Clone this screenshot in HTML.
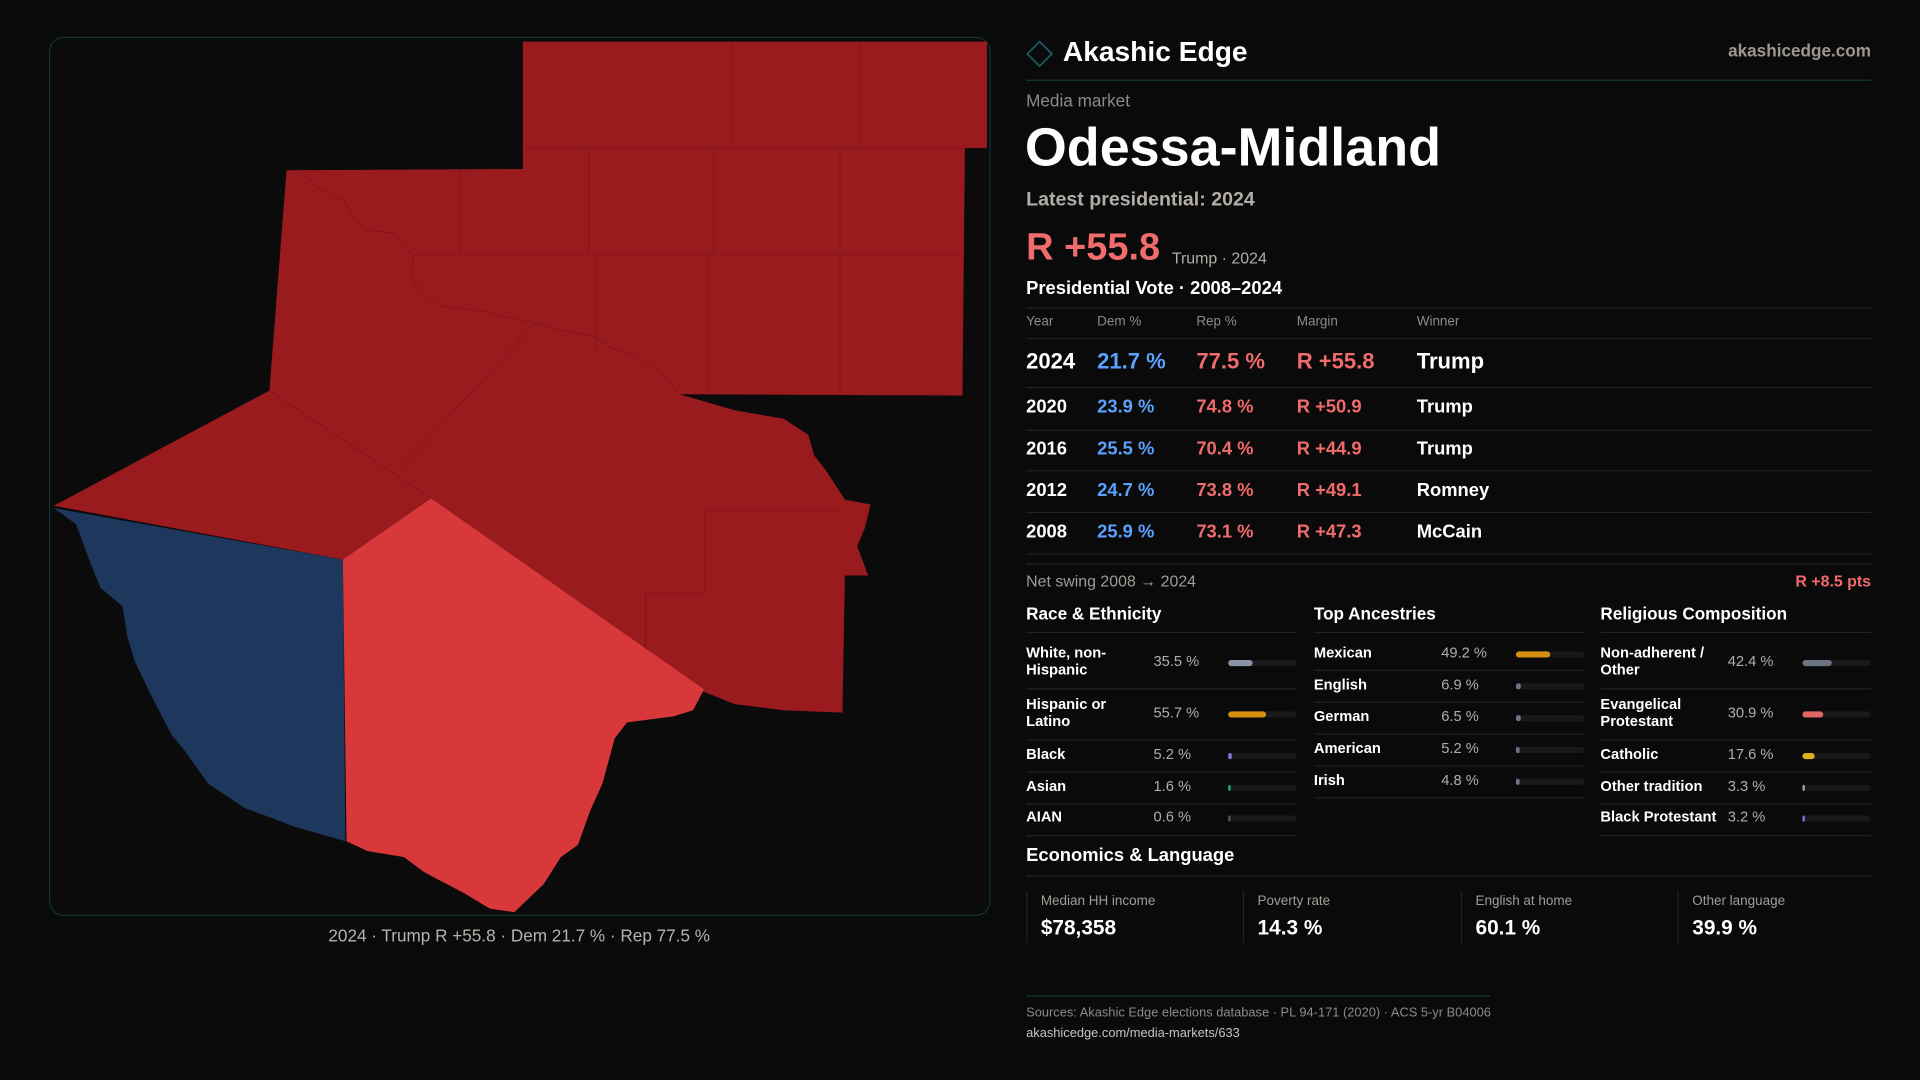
<!DOCTYPE html>
<html><head><meta charset="utf-8">
<style>
html,body{margin:0;padding:0;background:#0a0a0b;width:1920px;height:1080px;overflow:hidden}
#root{position:absolute;left:0;top:0;width:1568px;height:882px;transform:scale(1.22449);transform-origin:0 0;font-family:"Liberation Sans",sans-serif;color:#fff}
.a{position:absolute;white-space:nowrap}
.ln{position:absolute;height:1px;background:#222225}
</style></head><body>
<div id="root">
<div class="a" style="left:40px;top:30px;width:767px;height:716px;border:1px solid #133238;border-radius:12px;background:#0b0b0c"></div>
<svg class="a" style="left:0;top:0" width="1568" height="882" viewBox="0 0 1568 882">
<polygon fill="#9a1b1e" points="220,319 234,139 427,138 427,34 806,34 806,121 788,121 786,323 555,322 600,335 640,342 660,355 665,372 675,385 690,408 711,412 706,432 700,446 709,470 690,470 688,582 640,580 600,575 575,565 352,407"/>
<polygon fill="#9a1b1e" points="44,413 220,319 352,407 280,457"/>
<polygon fill="#1e375c" points="44,415 280,457 282,687 240,675 222,668 200,660 170,640 150,612 140,600 122,565 110,540 104,520 100,495 82,480 74,460 62,428"/>
<polygon fill="#d8383a" points="352,407 575,563 566,580 550,585 512,590 502,603 492,640 482,662 472,690 458,700 444,722 420,745 400,742 380,730 346,712 330,700 300,695 283,687 280,457"/>
<g stroke="#7c1519" stroke-width="0.6" fill="none">
<path d="M598,34V121M702,34V121M375,139V208M481,121V208M583,121V208M686,121V208M487,208V285M578,208V323M686,208V323M427,121H788M338,208H788"/>
<path d="M245,140 262,155 282,165 290,180 300,188 320,190 338,210 335,225 345,240 360,250 380,252 400,255 425,262 438,263 460,270 485,275 500,285 520,290 540,305 555,322"/>
<path d="M327,383 438,263M220,319 352,407M527,485H575V418H686M527,485V530"/>
</g>
</svg>
<div class="a" style="left:224px;width:400px;text-align:center;top:756px;font-size:14px;color:#b8b2ac">2024 · Trump R +55.8 · Dem 21.7 % · Rep 77.5 %</div>

<svg class="a" style="left:838px;top:33px" width="22" height="22"><polygon points="11,1 21,11 11,21 1,11" fill="none" stroke="#1b5a60" stroke-width="1.5"/></svg>
<div class="a" style="left:868px;top:29px;font-size:23px;font-weight:bold">Akashic Edge</div>
<div class="a" style="right:40px;top:33px;font-size:14px;color:#9d9791;font-weight:bold">akashicedge.com</div>
<div class="ln" style="left:838px;width:690px;top:65px;background:#173a3f"></div>
<div class="a" style="left:838px;top:74px;font-size:14px;color:#8f8a85">Media market</div>
<div class="a" style="left:837px;top:96px;font-size:44px;font-weight:bold">Odessa-Midland</div>
<div class="a" style="left:838px;top:155px;font-size:16px;color:#b3ada7;font-weight:bold">Latest presidential: 2024</div>
<div class="a" style="left:838px;top:184px;font-size:31px;color:#f06b6b;font-weight:bold">R +55.8</div>
<div class="a" style="left:957px;top:203px;font-size:13px;color:#b3ada7">Trump · 2024</div>
<div class="a" style="left:838px;top:227px;font-size:15px;font-weight:bold">Presidential Vote · 2008–2024</div>
<div class="ln" style="left:838px;width:690px;top:460px"></div>
<div class="a" style="left:838px;top:467px;font-size:13px;color:#a29c96">Net swing 2008 → 2024</div>
<div class="a" style="right:40px;top:467px;font-size:13px;color:#f06b6b;font-weight:bold">R +8.5 pts</div>
<div class="a" style="left:838px;top:690px;font-size:15px;font-weight:bold">Economics &amp; Language</div>
<div class="ln" style="left:838px;width:690px;top:715px"></div>
<div class="ln" style="left:838px;width:379px;top:813px;background:#173a3f"></div>
<div class="a" style="left:838px;top:821px;font-size:10.5px;color:#8f8a85">Sources: Akashic Edge elections database · PL 94-171 (2020) · ACS 5-yr B04006</div>
<div class="a" style="left:838px;top:838px;font-size:10.5px;color:#c9c3bd">akashicedge.com/media-markets/633</div>
</div>
<script>
const years=['2024','2020','2016','2012','2008'];
const demPct=[21.7,23.9,25.5,24.7,25.9];
const repPct=[77.5,74.8,70.4,73.8,73.1];
const margins=[55.8,50.9,44.9,49.1,47.3];
const winners=['Trump','Trump','Trump','Romney','McCain'];
const raceLabels=['White, non-\nHispanic','Hispanic or\nLatino','Black','Asian','AIAN'];
const raceValues=[35.5,55.7,5.2,1.6,0.6];
const ancLabels=['Mexican','English','German','American','Irish'];
const ancValues=[49.2,6.9,6.5,5.2,4.8];
const relLabels=['Non-adherent /\nOther','Evangelical\nProtestant','Catholic','Other tradition','Black Protestant'];
const relValues=[42.4,30.9,17.6,3.3,3.2];
const econLabels=['Median HH income','Poverty rate','English at home','Other language'];
const econValues=['$78,358','14.3 %','60.1 %','39.9 %'];
const raceColors=['#8a94a6','#d4900f','#8a6bd6','#1aa37a','#555'];
const ancColors=['#d4900f','#6b7588','#6b7588','#6b7588','#6b7588'];
const relColors=['#6b7280','#e06666','#e0b020','#9aa0a8','#8a6bd6'];
const root=document.getElementById('root');
function txt(parent,x,y,s,size,color,bold,name){
  const d=document.createElement('div');d.className='a';
  
  
  d.style.cssText=`left:${x}px;top:${y-size*0.58}px;font-size:${size}px;color:${color};font-weight:${bold?'bold':'normal'};line-height:1.15`;
  d.innerHTML=s.replace(/\n/g,'<br>');root.appendChild(d);return d;}
function rule(x,y,w,name){const d=document.createElement('div');d.className='ln';
  
  
  d.style.cssText=`left:${x}px;top:${y}px;width:${w}px`;root.appendChild(d);}
const cols=[838,896,977,1059,1157];
['Year','Dem %','Rep %','Margin','Winner'].forEach((h,i)=>txt(root,cols[i],263,h,11,'#8f8a85',false,'table-header'));
rule(838,251,690,'table-top-rule');rule(838,276,690,'table-header-rule');
const rowY=[295,333,367,401,435];const ruleY=[316,351,384,418,452];
years.forEach((y,i)=>{const s=i==0?18:15;
  txt(root,cols[0],rowY[i],y,s,'#fff',true,'year-cell');
  txt(root,cols[1],rowY[i],demPct[i].toFixed(1)+' %',s,'#5aa2ff',true,'dem-cell');
  txt(root,cols[2],rowY[i],repPct[i].toFixed(1)+' %',s,'#f06b6b',true,'rep-cell');
  txt(root,cols[3],rowY[i],'R +'+margins[i].toFixed(1),s,'#f06b6b',true,'margin-cell');
  txt(root,cols[4],rowY[i],winners[i],s,'#fff',true,'winner-cell');
  rule(838,ruleY[i],690,'row-rule');});
function panel(x,title,labels,values,colors,ys,rules,name){
  txt(root,x,501,title,14,'#fff',true,name+'-heading');
  rule(x,516,221,name+'-heading-rule');
  labels.forEach((l,i)=>{
    txt(root,x,ys[i]-(l.includes('\n')?7:0),l,12,'#fff',true,name+'-label');
    txt(root,x+104,ys[i],values[i].toFixed(1)+' %',12,'#b3ada7',false,name+'-value');
    const t=document.createElement('div');t.className='a';
    
    
    t.style.cssText=`left:${x+165}px;top:${ys[i]-2.5}px;width:56px;height:5px;border-radius:3px;background:#19191c`;root.appendChild(t);
    const b=document.createElement('div');b.className='a';
    
    
    b.style.cssText=`left:${x+165}px;top:${ys[i]-2.5}px;width:${Math.max(1.5,values[i]/100*56)}px;height:5px;border-radius:3px;background:${colors[i]}`;root.appendChild(b);
    rule(x,rules[i],221,name+'-row-rule');});}
panel(838,'Race &amp; Ethnicity',raceLabels,raceValues,raceColors,[541,583,617,643,668],[562,604,630,656,682],'race');
panel(1073,'Top Ancestries',ancLabels,ancValues,ancColors,[534,560,586,612,638],[547,573,599,625,651],'ancestry');
panel(1307,'Religious Composition',relLabels,relValues,relColors,[541,583,617,643,668],[562,604,630,656,682],'religion');
const ex=[838,1015,1193,1370];
econLabels.forEach((l,i)=>{
  const b=document.createElement('div');b.className='a';
  
  
  b.style.cssText=`left:${ex[i]}px;top:728px;width:1px;height:42px;background:#222225`;root.appendChild(b);
  txt(root,ex[i]+12,736,l,11,'#a29c96',false,'econ-label');
  txt(root,ex[i]+12,758,econValues[i],17,'#fff',true,'econ-value');});
</script>
</body></html>
